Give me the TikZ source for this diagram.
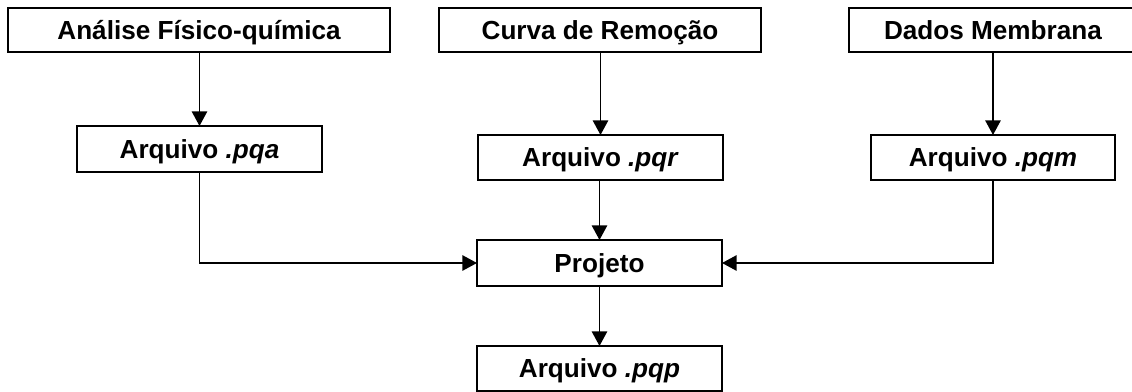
\documentclass[tikz,border=0pt]{standalone}
\usepackage{fontspec}
\setmainfont{Liberation Sans}
\usetikzlibrary{arrows.meta}
\begin{document}
\begin{tikzpicture}[x=0.75pt,y=-0.75pt,
  box/.style={draw=black,line width=1.5pt,inner sep=0pt,outer sep=0pt,
    font=\fontsize{19.6}{23}\selectfont\bfseries,fill=white,
    text height=14.1pt,text depth=0pt},
  conn/.style={draw=black,line width=1.4pt,-{Triangle[length=11pt,width=11.5pt]}}]
\useasboundingbox (0,0) rectangle (1132,392);
\clip (0,0) rectangle (1132,392);
\node[box,minimum width=382*0.75pt,minimum height=44*0.75pt] (A) at (199,30) {Análise Físico-química};
\node[box,minimum width=322*0.75pt,minimum height=44*0.75pt] (B) at (600,30) {Curva de Remoção};
\node[box,minimum width=288*0.75pt,minimum height=44*0.75pt] (C) at (993,30) {Dados Membrana};
\node[box,minimum width=245*0.75pt,minimum height=46*0.75pt] (pqa) at (199.5,149) {Arquivo \textit{.pqa}};
\node[box,minimum width=245*0.75pt,minimum height=45*0.75pt] (pqr) at (600.5,157.5) {Arquivo \textit{.pqr}};
\node[box,minimum width=244*0.75pt,minimum height=45*0.75pt] (pqm) at (993,157.5) {Arquivo \textit{.pqm}};
\node[box,minimum width=245*0.75pt,minimum height=46*0.75pt] (proj) at (599.5,263) {Projeto};
\node[box,minimum width=245*0.75pt,minimum height=45*0.75pt] (pqp) at (599.5,368.5) {Arquivo \textit{.pqp}};
\draw[conn] (A.south -| pqa.north) -- (pqa.north);
\draw[conn] (B.south -| pqr.north) -- (pqr.north);
\draw[conn] (C.south -| pqm.north) -- (pqm.north);
\draw[conn] (pqr.south -| proj.north) -- (proj.north);
\draw[conn] (pqa.south) |- (proj.west);
\draw[conn] (pqm.south) |- (proj.east);
\draw[conn] (proj.south) -- (pqp.north);
\end{tikzpicture}
\end{document}
